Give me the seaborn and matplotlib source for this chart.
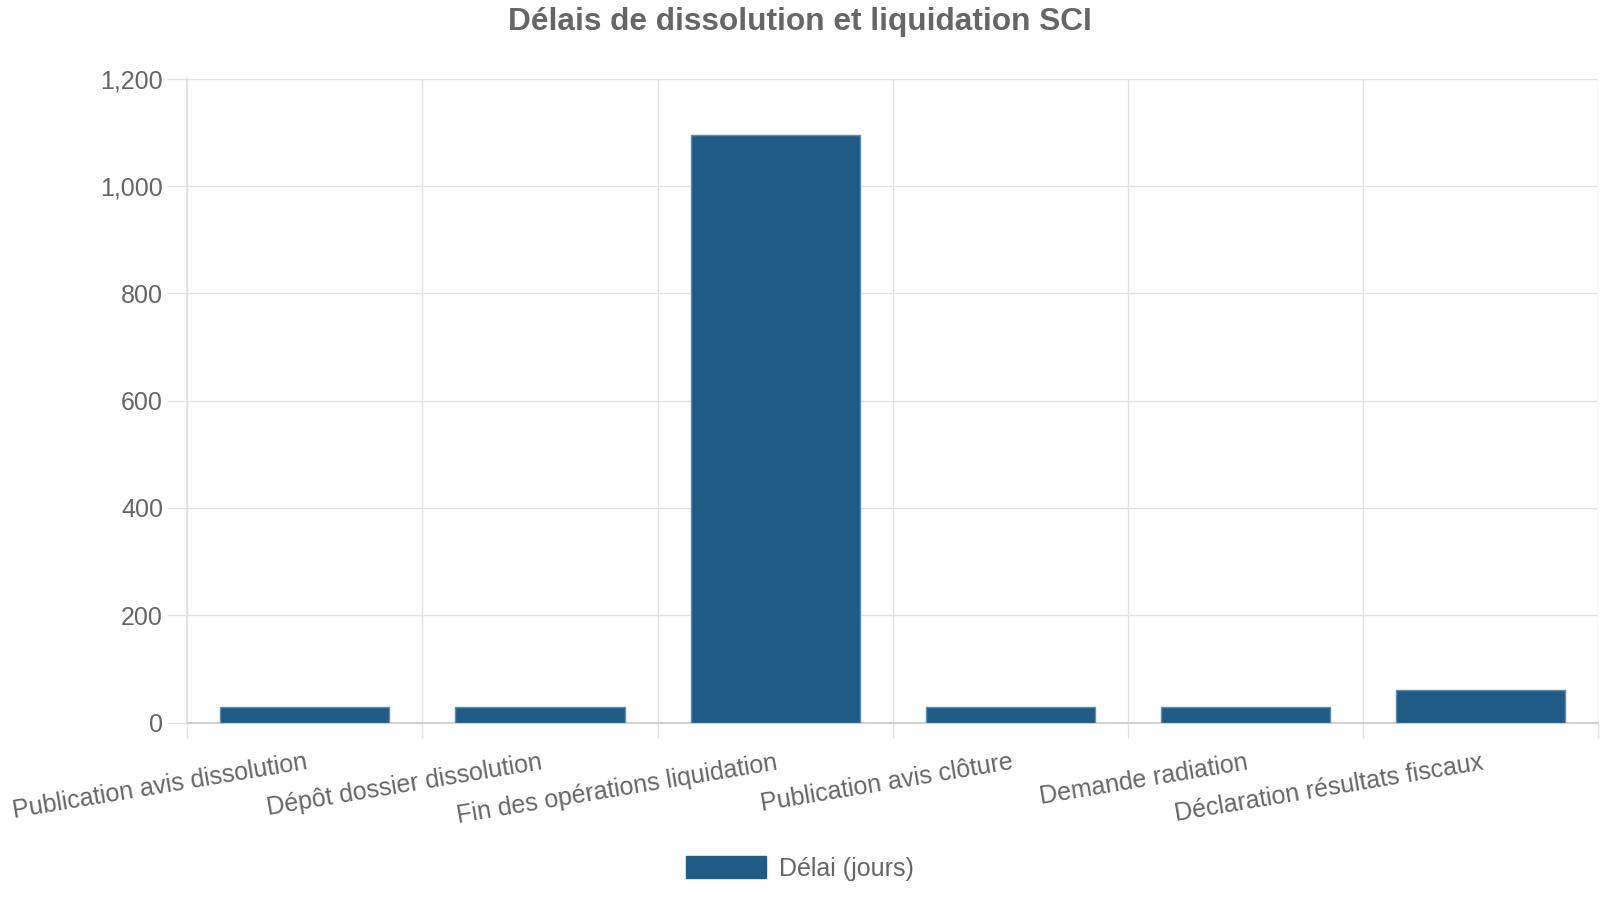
import matplotlib
matplotlib.use("Agg")
import matplotlib.pyplot as plt
from matplotlib.patches import Patch
from matplotlib.ticker import FuncFormatter, FixedLocator
import seaborn as sns
import pandas as pd

categories = [
    "Publication avis dissolution",
    "Dépôt dossier dissolution",
    "Fin des opérations liquidation",
    "Publication avis clôture",
    "Demande radiation",
    "Déclaration résultats fiscaux",
]
values = [30, 30, 1095, 30, 30, 60]
series_name = "Délai (jours)"
title = "Délais de dissolution et liquidation SCI"
y_ticks = [0, 200, 400, 600, 800, 1000, 1200]

bar_color = "#1f5b84"
edge_color = "#5f8db2"
text_color = "#666666"
grid_color = "#e2e2e2"

sns.set_theme(style="white")
plt.rcParams["font.family"] = ["Liberation Sans", "DejaVu Sans"]

df = pd.DataFrame({"cat": categories, "val": values})

fig = plt.figure(figsize=(16, 9), dpi=100)
ax = fig.add_axes([0.117, 0.197, 0.882, 0.7157])

sns.barplot(data=df, x="cat", y="val", color=bar_color, width=0.72,
            edgecolor=edge_color, linewidth=1, saturation=1, ax=ax, zorder=3)

ax.set_xlim(-0.5, len(categories) - 0.5)
ax.set_ylim(0, 1200)
ax.set_xlabel("")
ax.set_ylabel("")

# y axis
ax.yaxis.set_major_locator(FixedLocator(y_ticks))
ax.yaxis.set_major_formatter(FuncFormatter(lambda v, p: f"{int(v):,}"))
ax.tick_params(axis="y", which="major", length=14.5, width=1, color=grid_color,
               labelsize=18, labelcolor=text_color, pad=3, left=True)
ax.grid(axis="y", which="major", color=grid_color, linewidth=1, zorder=0)

# x axis: labels at centers, gridlines at boundaries
ax.set_xticks(range(len(categories)))
ax.set_xticks([i - 0.5 for i in range(len(categories) + 1)], minor=True)
ax.tick_params(axis="x", which="major", length=0, labelsize=18,
               labelcolor=text_color, pad=20)
ax.tick_params(axis="x", which="minor", length=11, width=1, color=grid_color,
               bottom=True)
ax.grid(axis="x", which="minor", color=grid_color, linewidth=1, zorder=0)
ax.grid(axis="x", which="major", visible=False)
for lab in ax.get_xticklabels():
    lab.set_rotation(9.5)
    lab.set_ha("right")
    lab.set_va("top")
    lab.set_rotation_mode("anchor")

for side in ["top", "right"]:
    ax.spines[side].set_visible(False)
ax.spines["left"].set_color(grid_color)
ax.spines["bottom"].set_color("#cccccc")
ax.spines["left"].set_zorder(1)
ax.set_axisbelow(True)

fig.suptitle(title, x=0.5, y=0.976, va="center", fontsize=22.8,
             fontweight="bold", color=text_color)

handle = Patch(facecolor=bar_color, edgecolor=bar_color)
fig.legend([handle], [series_name], loc="center", bbox_to_anchor=(0.5, 0.035),
           frameon=False, fontsize=18, handlelength=3.2, handleheight=0.92,
           handletextpad=0.5, labelcolor=text_color)

fig.savefig("out.png", dpi=100)
